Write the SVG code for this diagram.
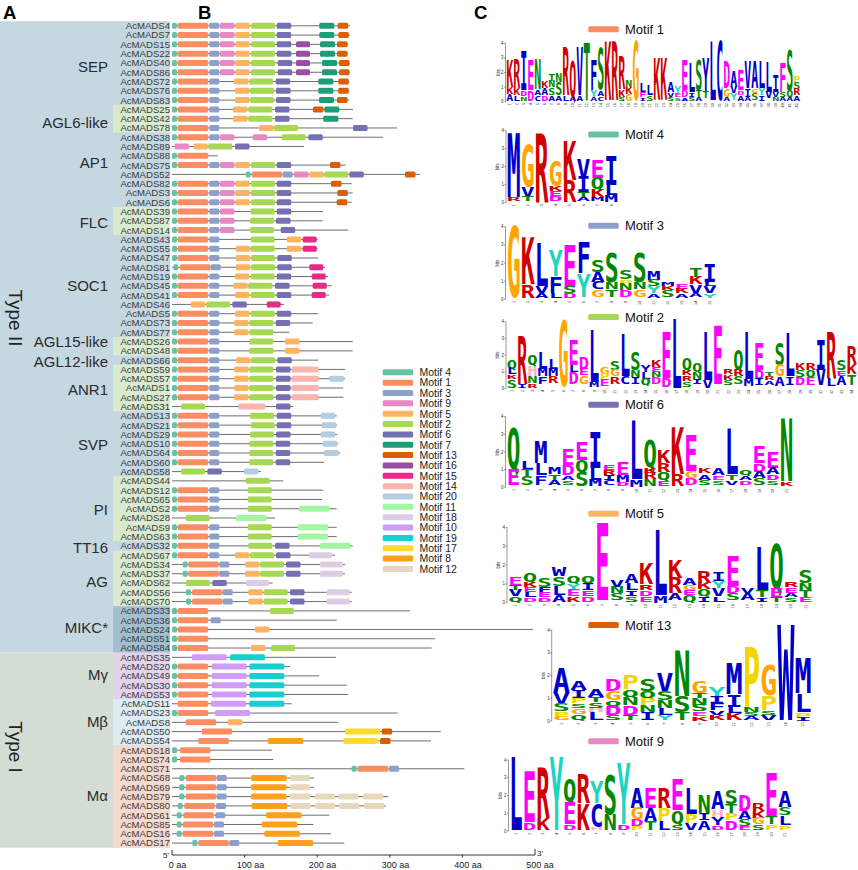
<svg xmlns="http://www.w3.org/2000/svg" width="858" height="870" viewBox="0 0 858 870">
<style>
text{font-family:"Liberation Sans",Arial,Helvetica,sans-serif}
.pl{font-size:18.5px;font-weight:bold;fill:#000}
.ty{font-size:19px;fill:#222;text-anchor:middle}
.sf{font-size:15px;fill:#2b2b2b;text-anchor:end}
.R text{font-size:9.6px;fill:#3a3a3a;text-anchor:end}
.R path{stroke:#6e6e6e;stroke-width:1;fill:none}
.R rect,.sw{height:6px;y:-3px;rx:1.5px;ry:1.5px}
.m4{fill:#66c2a5;width:5px}.m1{fill:#fc8d62;width:30.5px}.m3{fill:#8da0cb;width:10px}.m9{fill:#e78ac3;width:14.5px}
.m5{fill:#fdb462;width:14.5px}.m2{fill:#a6d854;width:24px}.m6{fill:#7570b3;width:14.5px}.m7{fill:#1b9e77;width:15px}
.m13{fill:#d95f02;width:10.5px}.m16{fill:#984ea3;width:14px}.m15{fill:#e7298a;width:14px}.m14{fill:#fbb4ae;width:27px}
.m20{fill:#b3cde3;width:14.5px}.m11{fill:#a1f7a1;width:30.5px}.m18{fill:#decbe4;width:23px}.m10{fill:#cf9cf7;width:35px}
.m19{fill:#17cfcf;width:35px}.m17{fill:#ffd92f;width:35px}.m8{fill:#ffa01c;width:35.5px}.m12{fill:#e5d8bd;width:20px}
rect.sw{width:30.5px}
.lgd text{font-size:10.5px;fill:#222}
.mt{font-size:13px;fill:#111}
.ax{stroke:#333;stroke-width:1;fill:none}
.at{font-size:9px;fill:#222;text-anchor:middle}
.lg text{font-family:"DejaVu Sans Mono",monospace;font-weight:bold;font-size:13.72px;text-anchor:middle}
.r{fill:#d10000}.m{fill:#f0f}.b{fill:#0000c8}.g{fill:#008800}.o{fill:#ffa500}.c{fill:#1fd3c0}.y{fill:#f2d600}.p{fill:#ffb3c1}
.ya{stroke:#333;stroke-width:.5;fill:none}
.yt{font-size:4.5px;fill:#333;text-anchor:end}
.bt{font-size:4.5px;fill:#333;text-anchor:middle}
.nu text{font-size:3.8px;fill:#333;text-anchor:end}
</style>
<rect width="858" height="870" fill="#fff"/>
<g id="panels">
<rect x="0" y="21.2" width="170" height="631.5" fill="#c5d7e1"/>
<rect x="0" y="652.7" width="170" height="195" fill="#d3ddd4"/>
<rect x="113" y="104.74" width="57" height="27.86" fill="#d9eacf"/>
<rect x="113" y="206.9" width="57" height="27.86" fill="#d9eacf"/>
<rect x="113" y="336.92" width="57" height="18.57" fill="#d9eacf"/>
<rect x="113" y="364.78" width="57" height="46.44" fill="#d9eacf"/>
<rect x="113" y="476.22" width="57" height="65" fill="#d9eacf"/>
<rect x="113" y="550.52" width="57" height="55.72" fill="#d9eacf"/>
<rect x="113" y="606.24" width="57" height="46.44" fill="#a3c0d0"/>
<rect x="113" y="652.68" width="57" height="46.44" fill="#e3d3eb"/>
<rect x="113" y="699.11" width="57" height="46.44" fill="#dcecf5"/>
<rect x="113" y="745.55" width="57" height="102.16" fill="#f7d8cc"/>
</g>
<text class="pl" x="3" y="18.5">A</text>
<text class="pl" x="198" y="18.5">B</text>
<text class="pl" x="474" y="18.5">C</text>
<text class="ty" transform="translate(16 318) rotate(90)" dy=".35em">Type II</text>
<text class="ty" transform="translate(16 747) rotate(90)" dy=".35em">Type I</text>
<g id="subfamilies">
<text class="sf" x="108" y="72.4">SEP</text>
<text class="sf" x="108" y="128.4">AGL6-like</text>
<text class="sf" x="108" y="168.4">AP1</text>
<text class="sf" x="108" y="228">FLC</text>
<text class="sf" x="108" y="291.4">SOC1</text>
<text class="sf" x="108" y="347">AGL15-like</text>
<text class="sf" x="108" y="367">AGL12-like</text>
<text class="sf" x="108" y="395.4">ANR1</text>
<text class="sf" x="108" y="450.4">SVP</text>
<text class="sf" x="108" y="515.4">PI</text>
<text class="sf" x="108" y="553">TT16</text>
<text class="sf" x="108" y="587">AG</text>
<text class="sf" x="108" y="633.4">MIKC*</text>
<text class="sf" x="108" y="680.4">Mγ</text>
<text class="sf" x="108" y="727">Mβ</text>
<text class="sf" x="108" y="801">Mα</text>
</g>
<g class="R">
<g id="AcMADS4" transform="translate(0 25.8)"><text x="170" y="3.4">AcMADS4</text><path d="M172 0H350"/><rect class="m4" x="172"/><rect class="m1" x="177.7"/><rect class="m3" x="209.3"/><rect class="m9" x="220"/><rect class="m5" x="235.3"/><rect class="m2" x="251"/><rect class="m6" x="276.7"/><rect class="m7" x="319.3"/><rect class="m13" x="337.7"/></g>
<g id="AcMADS7" transform="translate(0 35.09)"><text x="170" y="3.4">AcMADS7</text><path d="M172 0H350"/><rect class="m4" x="172"/><rect class="m1" x="177.7"/><rect class="m3" x="209.3"/><rect class="m9" x="220"/><rect class="m5" x="235.3"/><rect class="m2" x="251"/><rect class="m6" x="276.7"/><rect class="m7" x="319.3"/><rect class="m13" x="338.3"/></g>
<g id="AcMADS15" transform="translate(0 44.37)"><text x="170" y="3.4">AcMADS15</text><path d="M172 0H348"/><rect class="m4" x="172"/><rect class="m1" x="177.7"/><rect class="m3" x="209.3"/><rect class="m9" x="220"/><rect class="m5" x="235.3"/><rect class="m2" x="251"/><rect class="m6" x="276.7"/><rect class="m16" x="296"/><rect class="m7" x="320"/><rect class="m13" x="337"/></g>
<g id="AcMADS22" transform="translate(0 53.66)"><text x="170" y="3.4">AcMADS22</text><path d="M172 0H348"/><rect class="m4" x="172"/><rect class="m1" x="177.7"/><rect class="m3" x="209.3"/><rect class="m9" x="220"/><rect class="m5" x="235.3"/><rect class="m2" x="251"/><rect class="m6" x="276.7"/><rect class="m16" x="296"/><rect class="m7" x="320"/><rect class="m13" x="337"/></g>
<g id="AcMADS40" transform="translate(0 62.95)"><text x="170" y="3.4">AcMADS40</text><path d="M172 0H350"/><rect class="m4" x="172"/><rect class="m1" x="177.7"/><rect class="m3" x="209.3"/><rect class="m9" x="220"/><rect class="m5" x="235.3"/><rect class="m2" x="251"/><rect class="m6" x="277.7"/><rect class="m16" x="296"/><rect class="m7" x="322"/><rect class="m13" x="339"/></g>
<g id="AcMADS86" transform="translate(0 72.24)"><text x="170" y="3.4">AcMADS86</text><path d="M172 0H350"/><rect class="m4" x="172"/><rect class="m1" x="177.7"/><rect class="m3" x="209.3"/><rect class="m9" x="220"/><rect class="m5" x="235.3"/><rect class="m2" x="251"/><rect class="m6" x="277.7"/><rect class="m16" x="296"/><rect class="m7" x="322"/><rect class="m13" x="339"/></g>
<g id="AcMADS72" transform="translate(0 81.52)"><text x="170" y="3.4">AcMADS72</text><path d="M172 0H349.3"/><rect class="m4" x="172"/><rect class="m1" x="177.7"/><rect class="m3" x="209.3"/><rect class="m5" x="234"/><rect class="m2" x="249.3"/><rect class="m6" x="275.7"/><rect class="m7" x="318.3"/><rect class="m13" x="338.3"/></g>
<g id="AcMADS76" transform="translate(0 90.81)"><text x="170" y="3.4">AcMADS76</text><path d="M172 0H349.3"/><rect class="m4" x="172"/><rect class="m1" x="177.7"/><rect class="m3" x="209.3"/><rect class="m5" x="235"/><rect class="m2" x="250"/><rect class="m6" x="276"/><rect class="m7" x="318.3"/><rect class="m13" x="338.3"/></g>
<g id="AcMADS83" transform="translate(0 100.1)"><text x="170" y="3.4">AcMADS83</text><path d="M172 0H349"/><rect class="m4" x="172"/><rect class="m1" x="177.7"/><rect class="m3" x="209.3"/><rect class="m5" x="235"/><rect class="m2" x="250"/><rect class="m6" x="276"/><rect class="m7" x="319"/><rect class="m13" x="337"/></g>
<g id="AcMADS25" transform="translate(0 109.38)"><text x="170" y="3.4">AcMADS25</text><path d="M172 0H353"/><rect class="m4" x="172"/><rect class="m1" x="177.7"/><rect class="m3" x="209.3"/><rect class="m5" x="233"/><rect class="m2" x="248.3"/><rect class="m6" x="275"/><rect class="m13" x="313"/><rect class="m7" x="324.3"/></g>
<g id="AcMADS42" transform="translate(0 118.67)"><text x="170" y="3.4">AcMADS42</text><path d="M172 0H352.7"/><rect class="m4" x="172"/><rect class="m1" x="177.7"/><rect class="m3" x="209.3"/><rect class="m5" x="233"/><rect class="m2" x="248.3"/><rect class="m6" x="275"/><rect class="m7" x="323.3"/></g>
<g id="AcMADS78" transform="translate(0 127.96)"><text x="170" y="3.4">AcMADS78</text><path d="M172 0H397"/><rect class="m4" x="172"/><rect class="m1" x="177.7"/><rect class="m3" x="209.3"/><rect class="m5" x="259"/><rect class="m2" x="274"/><rect class="m6" x="353"/></g>
<g id="AcMADS38" transform="translate(0 137.24)"><text x="170" y="3.4">AcMADS38</text><path d="M172 0H383"/><rect class="m4" x="172"/><rect class="m1" x="177.7"/><rect class="m3" x="209.3"/><rect class="m9" x="220"/><rect class="m9" x="252.7"/><rect class="m2" x="281.7"/><rect class="m6" x="308.3"/></g>
<g id="AcMADS89" transform="translate(0 146.53)"><text x="170" y="3.4">AcMADS89</text><path d="M172 0H304"/><rect class="m9" x="174.5"/><rect class="m5" x="193.3"/><rect class="m2" x="208.3"/><rect class="m6" x="235"/></g>
<g id="AcMADS88" transform="translate(0 155.82)"><text x="170" y="3.4">AcMADS88</text><path d="M172 0H217.7"/><rect class="m4" x="172"/><rect class="m1" x="177.7"/></g>
<g id="AcMADS75" transform="translate(0 165.1)"><text x="170" y="3.4">AcMADS75</text><path d="M172 0H345.7"/><rect class="m4" x="172"/><rect class="m1" x="177.7"/><rect class="m3" x="209.3"/><rect class="m9" x="220"/><rect class="m5" x="235.3"/><rect class="m2" x="251"/><rect class="m6" x="276.7"/><rect class="m13" x="330"/></g>
<g id="AcMADS52" transform="translate(0 174.39)"><text x="170" y="3.4">AcMADS52</text><path d="M172 0H420"/><rect class="m4" x="245.7"/><rect class="m1" x="251.7"/><rect class="m3" x="282.7"/><rect class="m9" x="294"/><rect class="m5" x="309.3"/><rect class="m2" x="324.3"/><rect class="m6" x="349.3"/><rect class="m13" x="405"/></g>
<g id="AcMADS82" transform="translate(0 183.68)"><text x="170" y="3.4">AcMADS82</text><path d="M172 0H351.7"/><rect class="m4" x="172"/><rect class="m1" x="177.7"/><rect class="m3" x="209.3"/><rect class="m9" x="220"/><rect class="m5" x="235.3"/><rect class="m2" x="251"/><rect class="m6" x="276.7"/><rect class="m13" x="331"/></g>
<g id="AcMADS3" transform="translate(0 192.97)"><text x="170" y="3.4">AcMADS3</text><path d="M172 0H352.7"/><rect class="m4" x="172"/><rect class="m1" x="177.7"/><rect class="m3" x="209.3"/><rect class="m9" x="220"/><rect class="m5" x="235.3"/><rect class="m2" x="251"/><rect class="m6" x="276.7"/><rect class="m13" x="337.3"/></g>
<g id="AcMADS6" transform="translate(0 202.25)"><text x="170" y="3.4">AcMADS6</text><path d="M172 0H351.7"/><rect class="m4" x="172"/><rect class="m1" x="177.7"/><rect class="m3" x="209.3"/><rect class="m9" x="220"/><rect class="m5" x="235.3"/><rect class="m2" x="251"/><rect class="m6" x="276.7"/><rect class="m13" x="336.7"/></g>
<g id="AcMADS39" transform="translate(0 211.54)"><text x="170" y="3.4">AcMADS39</text><path d="M172 0H323"/><rect class="m4" x="172"/><rect class="m1" x="177.7"/><rect class="m3" x="209.3"/><rect class="m9" x="220"/><rect class="m2" x="250.7"/><rect class="m6" x="276.7"/></g>
<g id="AcMADS87" transform="translate(0 220.83)"><text x="170" y="3.4">AcMADS87</text><path d="M172 0H322.7"/><rect class="m4" x="172"/><rect class="m1" x="177.7"/><rect class="m3" x="209.3"/><rect class="m9" x="220"/><rect class="m2" x="250"/><rect class="m6" x="276"/></g>
<g id="AcMADS14" transform="translate(0 230.11)"><text x="170" y="3.4">AcMADS14</text><path d="M172 0H348.3"/><rect class="m4" x="172"/><rect class="m1" x="177.7"/><rect class="m3" x="209.3"/><rect class="m9" x="220"/><rect class="m2" x="250"/><rect class="m6" x="280.7"/></g>
<g id="AcMADS43" transform="translate(0 239.4)"><text x="170" y="3.4">AcMADS43</text><path d="M172 0H317.7"/><rect class="m4" x="172"/><rect class="m1" x="177.7"/><rect class="m3" x="209.3"/><rect class="m2" x="250.7"/><rect class="m5" x="286.7"/><rect class="m15" x="302.7"/></g>
<g id="AcMADS55" transform="translate(0 248.69)"><text x="170" y="3.4">AcMADS55</text><path d="M172 0H317.7"/><rect class="m4" x="172"/><rect class="m1" x="177.7"/><rect class="m3" x="209.3"/><rect class="m5" x="235.7"/><rect class="m2" x="250.7"/><rect class="m5" x="286.7"/><rect class="m15" x="302.7"/></g>
<g id="AcMADS47" transform="translate(0 257.98)"><text x="170" y="3.4">AcMADS47</text><path d="M172 0H318.3"/><rect class="m4" x="172"/><rect class="m1" x="177.7"/><rect class="m3" x="209.3"/><rect class="m5" x="235.7"/><rect class="m2" x="251"/><rect class="m6" x="277.3"/></g>
<g id="AcMADS81" transform="translate(0 267.26)"><text x="170" y="3.4">AcMADS81</text><path d="M172 0H325"/><rect class="m4" x="173.3"/><rect class="m1" x="180"/><rect class="m3" x="210.7"/><rect class="m5" x="235.7"/><rect class="m2" x="251"/><rect class="m6" x="277.3"/><rect class="m15" x="309.3"/></g>
<g id="AcMADS19" transform="translate(0 276.55)"><text x="170" y="3.4">AcMADS19</text><path d="M172 0H328.3"/><rect class="m4" x="172"/><rect class="m1" x="177.7"/><rect class="m3" x="209.3"/><rect class="m5" x="235"/><rect class="m2" x="250.7"/><rect class="m6" x="276.7"/><rect class="m15" x="311.7"/></g>
<g id="AcMADS45" transform="translate(0 285.84)"><text x="170" y="3.4">AcMADS45</text><path d="M172 0H331.7"/><rect class="m4" x="172"/><rect class="m1" x="177.7"/><rect class="m3" x="209.3"/><rect class="m5" x="233.3"/><rect class="m2" x="248.3"/><rect class="m6" x="275"/><rect class="m15" x="312.7"/></g>
<g id="AcMADS41" transform="translate(0 295.12)"><text x="170" y="3.4">AcMADS41</text><path d="M172 0H329.3"/><rect class="m4" x="172"/><rect class="m1" x="177.7"/><rect class="m3" x="209.3"/><rect class="m5" x="235"/><rect class="m2" x="250.7"/><rect class="m6" x="276.7"/><rect class="m15" x="311.7"/></g>
<g id="AcMADS46" transform="translate(0 304.41)"><text x="170" y="3.4">AcMADS46</text><path d="M172 0H284"/><rect class="m5" x="190.7"/><rect class="m2" x="206"/><rect class="m6" x="232.3"/><rect class="m15" x="266.7"/></g>
<g id="AcMADS5" transform="translate(0 313.7)"><text x="170" y="3.4">AcMADS5</text><path d="M172 0H318.3"/><rect class="m4" x="172"/><rect class="m1" x="177.7"/><rect class="m3" x="209.3"/><rect class="m5" x="235"/><rect class="m2" x="250.7"/><rect class="m6" x="276.7"/></g>
<g id="AcMADS73" transform="translate(0 322.98)"><text x="170" y="3.4">AcMADS73</text><path d="M172 0H312.7"/><rect class="m4" x="172"/><rect class="m1" x="177.7"/><rect class="m3" x="209.3"/><rect class="m5" x="234"/><rect class="m2" x="249.3"/><rect class="m6" x="275.7"/></g>
<g id="AcMADS77" transform="translate(0 332.27)"><text x="170" y="3.4">AcMADS77</text><path d="M172 0H289.3"/><rect class="m4" x="172"/><rect class="m1" x="177.7"/><rect class="m3" x="209.3"/><rect class="m5" x="234"/><rect class="m2" x="249.3"/></g>
<g id="AcMADS26" transform="translate(0 341.56)"><text x="170" y="3.4">AcMADS26</text><path d="M172 0H352.7"/><rect class="m4" x="172"/><rect class="m1" x="177.7"/><rect class="m3" x="209.3"/><rect class="m2" x="249.3"/><rect class="m5" x="285"/></g>
<g id="AcMADS48" transform="translate(0 350.85)"><text x="170" y="3.4">AcMADS48</text><path d="M172 0H352.7"/><rect class="m4" x="172"/><rect class="m1" x="177.7"/><rect class="m3" x="209.3"/><rect class="m2" x="249.3"/><rect class="m5" x="285"/></g>
<g id="AcMADS66" transform="translate(0 360.13)"><text x="170" y="3.4">AcMADS66</text><path d="M172 0H318.3"/><rect class="m4" x="172"/><rect class="m1" x="177.7"/><rect class="m3" x="209.3"/><rect class="m5" x="236"/><rect class="m2" x="251"/><rect class="m6" x="277.3"/></g>
<g id="AcMADS59" transform="translate(0 369.42)"><text x="170" y="3.4">AcMADS59</text><path d="M172 0H345"/><rect class="m4" x="172"/><rect class="m1" x="177.7"/><rect class="m3" x="209.3"/><rect class="m5" x="234"/><rect class="m2" x="249.3"/><rect class="m6" x="276"/><rect class="m14" x="291.7"/></g>
<g id="AcMADS57" transform="translate(0 378.71)"><text x="170" y="3.4">AcMADS57</text><path d="M172 0H345"/><rect class="m4" x="172"/><rect class="m1" x="177.7"/><rect class="m3" x="209.3"/><rect class="m5" x="234"/><rect class="m2" x="249.3"/><rect class="m6" x="276"/><rect class="m14" x="291.7"/><rect class="m20" x="329.3"/></g>
<g id="AcMADS1" transform="translate(0 387.99)"><text x="170" y="3.4">AcMADS1</text><path d="M172 0H343.3"/><rect class="m4" x="172"/><rect class="m1" x="177.7"/><rect class="m3" x="209.3"/><rect class="m5" x="234"/><rect class="m2" x="249.3"/><rect class="m6" x="276"/><rect class="m14" x="291.7"/></g>
<g id="AcMADS27" transform="translate(0 397.28)"><text x="170" y="3.4">AcMADS27</text><path d="M172 0H343.3"/><rect class="m4" x="172"/><rect class="m1" x="177.7"/><rect class="m3" x="209.3"/><rect class="m5" x="234"/><rect class="m2" x="249.3"/><rect class="m6" x="276"/><rect class="m14" x="291.7"/></g>
<g id="AcMADS31" transform="translate(0 406.57)"><text x="170" y="3.4">AcMADS31</text><path d="M172 0H293.3"/><rect class="m2" x="181"/><rect class="m14" x="238.3"/><rect class="m6" x="276"/></g>
<g id="AcMADS13" transform="translate(0 415.85)"><text x="170" y="3.4">AcMADS13</text><path d="M172 0H336.7"/><rect class="m4" x="172"/><rect class="m1" x="177.7"/><rect class="m3" x="209.3"/><rect class="m2" x="250"/><rect class="m6" x="276.7"/><rect class="m20" x="320.7"/></g>
<g id="AcMADS21" transform="translate(0 425.14)"><text x="170" y="3.4">AcMADS21</text><path d="M172 0H337"/><rect class="m4" x="172"/><rect class="m1" x="177.7"/><rect class="m3" x="209.3"/><rect class="m2" x="250.7"/><rect class="m6" x="276.7"/><rect class="m20" x="321.7"/></g>
<g id="AcMADS29" transform="translate(0 434.43)"><text x="170" y="3.4">AcMADS29</text><path d="M172 0H337.3"/><rect class="m4" x="172"/><rect class="m1" x="177.7"/><rect class="m3" x="209.3"/><rect class="m2" x="250"/><rect class="m6" x="276"/><rect class="m20" x="320.7"/></g>
<g id="AcMADS10" transform="translate(0 443.72)"><text x="170" y="3.4">AcMADS10</text><path d="M172 0H338.3"/><rect class="m4" x="172"/><rect class="m1" x="177.7"/><rect class="m3" x="209.3"/><rect class="m2" x="249.3"/><rect class="m6" x="275.7"/><rect class="m20" x="322.7"/></g>
<g id="AcMADS64" transform="translate(0 453)"><text x="170" y="3.4">AcMADS64</text><path d="M172 0H340"/><rect class="m4" x="172"/><rect class="m1" x="177.7"/><rect class="m3" x="209.3"/><rect class="m2" x="249.3"/><rect class="m6" x="275.7"/><rect class="m20" x="324"/></g>
<g id="AcMADS60" transform="translate(0 462.29)"><text x="170" y="3.4">AcMADS60</text><path d="M172 0H324"/><rect class="m4" x="172"/><rect class="m1" x="177.7"/><rect class="m3" x="209.3"/><rect class="m2" x="249.3"/><rect class="m6" x="275.7"/></g>
<g id="AcMADS58" transform="translate(0 471.58)"><text x="170" y="3.4">AcMADS58</text><path d="M172 0H261"/><rect class="m2" x="181"/><rect class="m6" x="207.3"/><rect class="m20" x="244"/></g>
<g id="AcMADS44" transform="translate(0 480.86)"><text x="170" y="3.4">AcMADS44</text><path d="M172 0H283.3"/><rect class="m2" x="245.7"/></g>
<g id="AcMADS12" transform="translate(0 490.15)"><text x="170" y="3.4">AcMADS12</text><path d="M172 0H323.3"/><rect class="m4" x="172"/><rect class="m1" x="177.7"/><rect class="m3" x="209.3"/><rect class="m2" x="247.7"/></g>
<g id="AcMADS65" transform="translate(0 499.44)"><text x="170" y="3.4">AcMADS65</text><path d="M172 0H322.3"/><rect class="m4" x="172"/><rect class="m1" x="177.7"/><rect class="m3" x="209.3"/><rect class="m2" x="247.7"/></g>
<g id="AcMADS2" transform="translate(0 508.72)"><text x="170" y="3.4">AcMADS2</text><path d="M172 0H336.7"/><rect class="m4" x="172"/><rect class="m1" x="177.7"/><rect class="m3" x="209.3"/><rect class="m2" x="247.7"/><rect class="m11" x="299"/></g>
<g id="AcMADS28" transform="translate(0 518.01)"><text x="170" y="3.4">AcMADS28</text><path d="M172 0H275"/><rect class="m2" x="185.7"/><rect class="m11" x="236"/></g>
<g id="AcMADS9" transform="translate(0 527.3)"><text x="170" y="3.4">AcMADS9</text><path d="M172 0H336.7"/><rect class="m4" x="172"/><rect class="m1" x="177.7"/><rect class="m3" x="209.3"/><rect class="m2" x="247.7"/><rect class="m11" x="297.7"/></g>
<g id="AcMADS63" transform="translate(0 536.59)"><text x="170" y="3.4">AcMADS63</text><path d="M172 0H336.7"/><rect class="m4" x="172"/><rect class="m1" x="177.7"/><rect class="m3" x="209.3"/><rect class="m2" x="247.7"/><rect class="m11" x="297.7"/></g>
<g id="AcMADS32" transform="translate(0 545.87)"><text x="170" y="3.4">AcMADS32</text><path d="M172 0H352.7"/><rect class="m4" x="172"/><rect class="m1" x="177.7"/><rect class="m3" x="209.3"/><rect class="m2" x="248.3"/><rect class="m6" x="275"/><rect class="m11" x="320"/></g>
<g id="AcMADS67" transform="translate(0 555.16)"><text x="170" y="3.4">AcMADS67</text><path d="M172 0H335"/><rect class="m4" x="172"/><rect class="m1" x="177.7"/><rect class="m3" x="209.3"/><rect class="m5" x="235"/><rect class="m2" x="250"/><rect class="m6" x="276"/><rect class="m18" x="309"/></g>
<g id="AcMADS34" transform="translate(0 564.45)"><text x="170" y="3.4">AcMADS34</text><path d="M172 0H345"/><rect class="m4" x="182.7"/><rect class="m1" x="188.3"/><rect class="m3" x="219.3"/><rect class="m5" x="245"/><rect class="m2" x="260"/><rect class="m6" x="286"/><rect class="m18" x="320"/></g>
<g id="AcMADS37" transform="translate(0 573.73)"><text x="170" y="3.4">AcMADS37</text><path d="M172 0H345"/><rect class="m4" x="182.7"/><rect class="m1" x="188.3"/><rect class="m3" x="219.3"/><rect class="m5" x="245"/><rect class="m2" x="260"/><rect class="m6" x="286"/><rect class="m18" x="320"/></g>
<g id="AcMADS62" transform="translate(0 583.02)"><text x="170" y="3.4">AcMADS62</text><path d="M172 0H272.7"/><rect class="m2" x="186"/><rect class="m6" x="212.3"/><rect class="m18" x="246"/></g>
<g id="AcMADS56" transform="translate(0 592.31)"><text x="170" y="3.4">AcMADS56</text><path d="M172 0H351.7"/><rect class="m4" x="186"/><rect class="m1" x="192"/><rect class="m3" x="222.7"/><rect class="m5" x="248.3"/><rect class="m2" x="263.7"/><rect class="m6" x="290"/><rect class="m18" x="326.7"/></g>
<g id="AcMADS70" transform="translate(0 601.59)"><text x="170" y="3.4">AcMADS70</text><path d="M172 0H351.7"/><rect class="m4" x="186"/><rect class="m1" x="192"/><rect class="m3" x="222.7"/><rect class="m5" x="248.3"/><rect class="m2" x="263.7"/><rect class="m6" x="290"/><rect class="m18" x="326.7"/></g>
<g id="AcMADS33" transform="translate(0 610.88)"><text x="170" y="3.4">AcMADS33</text><path d="M172 0H410"/><rect class="m4" x="172"/><rect class="m1" x="177.7"/><rect class="m2" x="270"/></g>
<g id="AcMADS36" transform="translate(0 620.17)"><text x="170" y="3.4">AcMADS36</text><path d="M172 0H336.7"/><rect class="m4" x="172"/><rect class="m1" x="177.7"/><rect class="m3" x="210.7"/></g>
<g id="AcMADS24" transform="translate(0 629.46)"><text x="170" y="3.4">AcMADS24</text><path d="M172 0H533"/><rect class="m4" x="172"/><rect class="m1" x="177.7"/><rect class="m5" x="255"/></g>
<g id="AcMADS51" transform="translate(0 638.74)"><text x="170" y="3.4">AcMADS51</text><path d="M172 0H435"/><rect class="m4" x="172"/><rect class="m1" x="177.7"/></g>
<g id="AcMADS84" transform="translate(0 648.03)"><text x="170" y="3.4">AcMADS84</text><path d="M172 0H431.7"/><rect class="m4" x="172"/><rect class="m1" x="177.7"/><rect class="m5" x="251"/><rect class="m2" x="271"/></g>
<g id="AcMADS35" transform="translate(0 657.32)"><text x="170" y="3.4">AcMADS35</text><path d="M172 0H336"/><rect class="m10" x="191.7"/><rect class="m19" x="230"/></g>
<g id="AcMADS20" transform="translate(0 666.6)"><text x="170" y="3.4">AcMADS20</text><path d="M172 0H290"/><rect class="m4" x="172"/><rect class="m1" x="177.7"/><rect class="m10" x="211.7"/><rect class="m19" x="249.3"/></g>
<g id="AcMADS49" transform="translate(0 675.89)"><text x="170" y="3.4">AcMADS49</text><path d="M172 0H319.3"/><rect class="m4" x="172"/><rect class="m1" x="177.7"/><rect class="m10" x="211.7"/><rect class="m19" x="249.3"/></g>
<g id="AcMADS30" transform="translate(0 685.18)"><text x="170" y="3.4">AcMADS30</text><path d="M172 0H346.7"/><rect class="m4" x="172"/><rect class="m1" x="177.7"/><rect class="m10" x="211.7"/><rect class="m19" x="249.3"/></g>
<g id="AcMADS53" transform="translate(0 694.46)"><text x="170" y="3.4">AcMADS53</text><path d="M172 0H348.3"/><rect class="m4" x="172"/><rect class="m1" x="177.7"/><rect class="m10" x="211.7"/><rect class="m19" x="249.3"/></g>
<g id="AcMADS11" transform="translate(0 703.75)"><text x="170" y="3.4">AcMADS11</text><path d="M172 0H291.7"/><rect class="m1" x="177.7"/><rect class="m10" x="211"/><rect class="m19" x="249.3"/></g>
<g id="AcMADS23" transform="translate(0 713.04)"><text x="170" y="3.4">AcMADS23</text><path d="M172 0H397.7"/><rect class="m4" x="172"/><rect class="m1" x="177.7"/><rect class="m10" x="215"/></g>
<g id="AcMADS8" transform="translate(0 722.33)"><text x="170" y="3.4">AcMADS8</text><path d="M172 0H337.7"/><rect class="m1" x="185.7"/><rect class="m5" x="227.7"/></g>
<g id="AcMADS50" transform="translate(0 731.61)"><text x="170" y="3.4">AcMADS50</text><path d="M172 0H440.7"/><rect class="m1" x="201.7"/><rect class="m17" x="345"/><rect class="m13" x="381.7"/></g>
<g id="AcMADS54" transform="translate(0 740.9)"><text x="170" y="3.4">AcMADS54</text><path d="M172 0H431"/><rect class="m1" x="198.3"/><rect class="m8" x="267.7"/><rect class="m17" x="343.3"/><rect class="m13" x="380"/></g>
<g id="AcMADS18" transform="translate(0 750.19)"><text x="170" y="3.4">AcMADS18</text><path d="M172 0H271.7"/><rect class="m4" x="172"/><rect class="m1" x="180"/></g>
<g id="AcMADS74" transform="translate(0 759.47)"><text x="170" y="3.4">AcMADS74</text><path d="M172 0H273.3"/><rect class="m4" x="172"/><rect class="m1" x="180"/></g>
<g id="AcMADS71" transform="translate(0 768.76)"><text x="170" y="3.4">AcMADS71</text><path d="M172 0H464.3"/><rect class="m4" x="351.7"/><rect class="m1" x="357.7"/><rect class="m3" x="389"/></g>
<g id="AcMADS68" transform="translate(0 778.05)"><text x="170" y="3.4">AcMADS68</text><path d="M172 0H314"/><rect class="m4" x="179.3"/><rect class="m1" x="185.7"/><rect class="m3" x="216.7"/><rect class="m8" x="251"/><rect class="m12" x="290"/></g>
<g id="AcMADS69" transform="translate(0 787.33)"><text x="170" y="3.4">AcMADS69</text><path d="M172 0H314"/><rect class="m4" x="179.3"/><rect class="m1" x="185.7"/><rect class="m3" x="216.7"/><rect class="m8" x="251"/><rect class="m12" x="290"/></g>
<g id="AcMADS79" transform="translate(0 796.62)"><text x="170" y="3.4">AcMADS79</text><path d="M172 0H388.3"/><rect class="m4" x="179.3"/><rect class="m1" x="185.7"/><rect class="m3" x="216.7"/><rect class="m8" x="251"/><rect class="m12" x="290"/><rect class="m12" x="315"/><rect class="m12" x="338.3"/><rect class="m12" x="363.3"/></g>
<g id="AcMADS80" transform="translate(0 805.91)"><text x="170" y="3.4">AcMADS80</text><path d="M172 0H386"/><rect class="m4" x="177.7"/><rect class="m1" x="184.3"/><rect class="m3" x="216"/><rect class="m8" x="251.7"/><rect class="m12" x="290.7"/><rect class="m12" x="315"/><rect class="m12" x="339.3"/><rect class="m12" x="364.3"/></g>
<g id="AcMADS61" transform="translate(0 815.2)"><text x="170" y="3.4">AcMADS61</text><path d="M172 0H329.3"/><rect class="m4" x="176.7"/><rect class="m1" x="183.3"/><rect class="m3" x="215.3"/><rect class="m8" x="266"/></g>
<g id="AcMADS85" transform="translate(0 824.48)"><text x="170" y="3.4">AcMADS85</text><path d="M172 0H313.3"/><rect class="m4" x="176.7"/><rect class="m1" x="182.7"/><rect class="m3" x="214"/><rect class="m8" x="261.7"/></g>
<g id="AcMADS16" transform="translate(0 833.77)"><text x="170" y="3.4">AcMADS16</text><path d="M172 0H331"/><rect class="m4" x="176.7"/><rect class="m1" x="182.7"/><rect class="m3" x="214"/><rect class="m8" x="264.3"/></g>
<g id="AcMADS17" transform="translate(0 843.06)"><text x="170" y="3.4">AcMADS17</text><path d="M172 0H344.3"/><rect class="m4" x="192.3"/><rect class="m1" x="198.3"/><rect class="m3" x="229.3"/><rect class="m8" x="277.7"/></g>
</g>
<g id="scale">
<path class="ax" d="M172 855H535M172 855V850M535 855V849M244.6 855v2.5M317.2 855v2.5M389.8 855v2.5M462.4 855v2.5"/>
<text class="at" x="166" y="858" style="font-size:8px">5'</text>
<text x="537" y="855.5" style="font-size:8px;fill:#222">3'</text>
<text class="at" x="177.5" y="868">0 aa</text>
<text class="at" x="250.5" y="868">100 aa</text>
<text class="at" x="322.5" y="868">200 aa</text>
<text class="at" x="395.5" y="868">300 aa</text>
<text class="at" x="468" y="868">400 aa</text>
<text class="at" x="540" y="868">500 aa</text>
</g>
<g id="legend" class="lgd">
<g transform="translate(0 372.3)"><rect class="sw m4" x="382.7"/><text x="419.5" y="3.8">Motif 4</text></g>
<g transform="translate(0 382.65)"><rect class="sw m1" x="382.7"/><text x="419.5" y="3.8">Motif 1</text></g>
<g transform="translate(0 393)"><rect class="sw m3" x="382.7"/><text x="419.5" y="3.8">Motif 3</text></g>
<g transform="translate(0 403.35)"><rect class="sw m9" x="382.7"/><text x="419.5" y="3.8">Motif 9</text></g>
<g transform="translate(0 413.7)"><rect class="sw m5" x="382.7"/><text x="419.5" y="3.8">Motif 5</text></g>
<g transform="translate(0 424.05)"><rect class="sw m2" x="382.7"/><text x="419.5" y="3.8">Motif 2</text></g>
<g transform="translate(0 434.4)"><rect class="sw m6" x="382.7"/><text x="419.5" y="3.8">Motif 6</text></g>
<g transform="translate(0 444.75)"><rect class="sw m7" x="382.7"/><text x="419.5" y="3.8">Motif 7</text></g>
<g transform="translate(0 455.1)"><rect class="sw m13" x="382.7"/><text x="419.5" y="3.8">Motif 13</text></g>
<g transform="translate(0 465.45)"><rect class="sw m16" x="382.7"/><text x="419.5" y="3.8">Motif 16</text></g>
<g transform="translate(0 475.8)"><rect class="sw m15" x="382.7"/><text x="419.5" y="3.8">Motif 15</text></g>
<g transform="translate(0 486.15)"><rect class="sw m14" x="382.7"/><text x="419.5" y="3.8">Motif 14</text></g>
<g transform="translate(0 496.5)"><rect class="sw m20" x="382.7"/><text x="419.5" y="3.8">Motif 20</text></g>
<g transform="translate(0 506.85)"><rect class="sw m11" x="382.7"/><text x="419.5" y="3.8">Motif 11</text></g>
<g transform="translate(0 517.2)"><rect class="sw m18" x="382.7"/><text x="419.5" y="3.8">Motif 18</text></g>
<g transform="translate(0 527.55)"><rect class="sw m10" x="382.7"/><text x="419.5" y="3.8">Motif 10</text></g>
<g transform="translate(0 537.9)"><rect class="sw m19" x="382.7"/><text x="419.5" y="3.8">Motif 19</text></g>
<g transform="translate(0 548.25)"><rect class="sw m17" x="382.7"/><text x="419.5" y="3.8">Motif 17</text></g>
<g transform="translate(0 558.6)"><rect class="sw m8" x="382.7"/><text x="419.5" y="3.8">Motif 8</text></g>
<g transform="translate(0 568.95)"><rect class="sw m12" x="382.7"/><text x="419.5" y="3.8">Motif 12</text></g>
</g>
<g id="titles">
<g transform="translate(0 29.2)"><rect class="sw m1" x="588.3"/><text class="mt" x="625" y="4.6">Motif 1</text></g>
<g transform="translate(0 134.5)"><rect class="sw m4" x="588.3"/><text class="mt" x="625" y="4.6">Motif 4</text></g>
<g transform="translate(0 225.7)"><rect class="sw m3" x="588.3"/><text class="mt" x="625" y="4.6">Motif 3</text></g>
<g transform="translate(0 317)"><rect class="sw m2" x="588.3"/><text class="mt" x="625" y="4.6">Motif 2</text></g>
<g transform="translate(0 404.7)"><rect class="sw m6" x="588.3"/><text class="mt" x="625" y="4.6">Motif 6</text></g>
<g transform="translate(0 513.7)"><rect class="sw m5" x="588.3"/><text class="mt" x="625" y="4.6">Motif 5</text></g>
<g transform="translate(0 625)"><rect class="sw m13" x="588.3"/><text class="mt" x="625" y="4.6">Motif 13</text></g>
<g transform="translate(0 741.3)"><rect class="sw m9" x="588.3"/><text class="mt" x="625" y="4.6">Motif 9</text></g>
</g>
<g id="axes">
<path class="ya" d="M505.5 43.3V101.7M504 43.3h1.5M504 57.9h1.5M504 72.5h1.5M504 87.1h1.5M504 101.7h1.5"/>
<text class="yt" x="503.5" y="44.8">4</text><text class="yt" x="503.5" y="59.4">3</text><text class="yt" x="503.5" y="74">2</text><text class="yt" x="503.5" y="88.6">1</text><text class="yt" x="503.5" y="103.2">0</text>
<text class="bt" transform="translate(499.5 72.5) rotate(-90)">bits</text>
<path class="ya" d="M506 130.7V202.7M504.5 130.7h1.5M504.5 148.7h1.5M504.5 166.7h1.5M504.5 184.7h1.5M504.5 202.7h1.5"/>
<text class="yt" x="504" y="132.2">4</text><text class="yt" x="504" y="150.2">3</text><text class="yt" x="504" y="168.2">2</text><text class="yt" x="504" y="186.2">1</text><text class="yt" x="504" y="204.2">0</text>
<text class="bt" transform="translate(499 166.7) rotate(-90)">bits</text>
<path class="ya" d="M505.5 226.7V299.3M504 226.7h1.5M504 244.85h1.5M504 263h1.5M504 281.15h1.5M504 299.3h1.5"/>
<text class="yt" x="503.5" y="228.2">4</text><text class="yt" x="503.5" y="246.35">3</text><text class="yt" x="503.5" y="264.5">2</text><text class="yt" x="503.5" y="282.65">1</text><text class="yt" x="503.5" y="300.8">0</text>
<text class="bt" transform="translate(498.5 263) rotate(-90)">bits</text>
<path class="ya" d="M506 321.7V388.3M504.5 321.7h1.5M504.5 338.35h1.5M504.5 355h1.5M504.5 371.65h1.5M504.5 388.3h1.5"/>
<text class="yt" x="504" y="323.2">4</text><text class="yt" x="504" y="339.85">3</text><text class="yt" x="504" y="356.5">2</text><text class="yt" x="504" y="373.15">1</text><text class="yt" x="504" y="389.8">0</text>
<text class="bt" transform="translate(499 355) rotate(-90)">bits</text>
<path class="ya" d="M505.5 416.7V487.3M504 416.7h1.5M504 434.35h1.5M504 452h1.5M504 469.65h1.5M504 487.3h1.5"/>
<text class="yt" x="503.5" y="418.2">4</text><text class="yt" x="503.5" y="435.85">3</text><text class="yt" x="503.5" y="453.5">2</text><text class="yt" x="503.5" y="471.15">1</text><text class="yt" x="503.5" y="488.8">0</text>
<text class="bt" transform="translate(498.5 452) rotate(-90)">bits</text>
<path class="ya" d="M507 527.3V602.7M505.5 527.3h1.5M505.5 546.15h1.5M505.5 565h1.5M505.5 583.85h1.5M505.5 602.7h1.5"/>
<text class="yt" x="505" y="528.8">4</text><text class="yt" x="505" y="547.65">3</text><text class="yt" x="505" y="566.5">2</text><text class="yt" x="505" y="585.35">1</text><text class="yt" x="505" y="604.2">0</text>
<text class="bt" transform="translate(500 565) rotate(-90)">bits</text>
<path class="ya" d="M551.7 630V721M550.2 630h1.5M550.2 652.75h1.5M550.2 675.5h1.5M550.2 698.25h1.5M550.2 721h1.5"/>
<text class="yt" x="549.7" y="631.5">4</text><text class="yt" x="549.7" y="654.25">3</text><text class="yt" x="549.7" y="677">2</text><text class="yt" x="549.7" y="699.75">1</text><text class="yt" x="549.7" y="722.5">0</text>
<text class="bt" transform="translate(544.5 675.5) rotate(-90)">bits</text>
<path class="ya" d="M508.5 760V831M507 760h1.5M507 777.75h1.5M507 795.5h1.5M507 813.25h1.5M507 831h1.5"/>
<text class="yt" x="506.5" y="761.5">4</text><text class="yt" x="506.5" y="779.25">3</text><text class="yt" x="506.5" y="797">2</text><text class="yt" x="506.5" y="814.75">1</text><text class="yt" x="506.5" y="832.5">0</text>
<text class="bt" transform="translate(501.5 795.5) rotate(-90)">bits</text>
</g>
<g id="logo1" class="lg" transform="translate(506.2 101.7) scale(.7 1)">
<text class="r" transform="matrix(1.21 0 0 2.73 5 -14.3)">K</text><text class="r" transform="matrix(1.21 0 0 .6 5 -7.3)">K</text><text class="b" transform="matrix(1.21 0 0 .57 5 -1)">A</text>
<text class="r" transform="matrix(1.21 0 0 2.9 15 -13.3)">R</text><text class="r" transform="matrix(1.21 0 0 .57 15 -7)">K</text><text class="b" transform="matrix(1.21 0 0 .53 15 -1)">L</text>
<text class="b" transform="matrix(1.21 0 0 3.83 25 -11.7)">I</text><text class="m" transform="matrix(1.21 0 0 .5 25 -6)">D</text><text class="g" transform="matrix(1.21 0 0 .43 25 -1)">N</text>
<text class="m" transform="matrix(1.21 0 0 3 35 -11.7)">E</text><text class="m" transform="matrix(1.21 0 0 1 35 -1)">D</text>
<text class="g" transform="matrix(1.21 0 0 2.93 45 -12.3)">N</text><text class="b" transform="matrix(1.21 0 0 .5 45 -6.7)">A</text><text class="b" transform="matrix(1.21 0 0 .5 45 -1)">C</text>
<text class="r" transform="matrix(1.21 0 0 .67 55 -13.3)">K</text><text class="b" transform="matrix(1.21 0 0 .6 55 -6.7)">A</text><text class="m" transform="matrix(1.21 0 0 .5 55 -1)">D</text>
<text class="g" transform="matrix(1.21 0 0 .67 65 -21)">T</text><text class="g" transform="matrix(1.21 0 0 .6 65 -14.3)">N</text><text class="g" transform="matrix(1.21 0 0 .67 65 -7)">S</text><text class="b" transform="matrix(1.21 0 0 .53 65 -1)">A</text>
<text class="g" transform="matrix(1.21 0 0 .83 75 -20)">N</text><text class="g" transform="matrix(1.21 0 0 1.27 75 -6.7)">S</text><text class="b" transform="matrix(1.21 0 0 .5 75 -1)">A</text>
<text class="r" transform="matrix(1.21 0 0 4.83 85 -6.7)">R</text><text class="b" transform="matrix(1.21 0 0 .5 85 -1)">L</text>
<text class="r" transform="matrix(1.21 0 0 3.67 95 -5)">Q</text><text class="b" transform="matrix(1.21 0 0 .33 95 -1)">A</text>
<text class="b" transform="matrix(1.21 0 0 4.83 105 -6.7)">V</text><text class="b" transform="matrix(1.21 0 0 .5 105 -1)">A</text>
<text class="g" transform="matrix(1.21 0 0 5.67 115 -1.7)">T</text>
<text class="b" transform="matrix(1.21 0 0 3 125 -11.7)">F</text><text class="c" transform="matrix(1.21 0 0 .6 125 -5)">Y</text><text class="b" transform="matrix(1.21 0 0 .33 125 -1)">A</text>
<text class="g" transform="matrix(1.21 0 0 4.17 135 -11.7)">S</text><text class="b" transform="matrix(1.21 0 0 .53 135 -5.7)">A</text><text class="b" transform="matrix(1.21 0 0 .4 135 -1)">C</text>
<text class="r" transform="matrix(1.21 0 0 5.83 145 -1.7)">K</text>
<text class="r" transform="matrix(1.21 0 0 5.83 155 -1.7)">R</text>
<text class="r" transform="matrix(1.21 0 0 3.27 165 -12.3)">R</text><text class="r" transform="matrix(1.21 0 0 .67 165 -5)">K</text><text class="g" transform="matrix(1.21 0 0 .33 165 -1)">S</text>
<text class="g" transform="matrix(1.21 0 0 .57 175 -14.3)">N</text><text class="r" transform="matrix(1.21 0 0 .6 175 -7.7)">K</text><text class="o" transform="matrix(1.21 0 0 .6 175 -1)">G</text>
<text class="o" transform="matrix(1.21 0 0 5.83 185 -1.7)">G</text>
<text class="b" transform="matrix(1.21 0 0 .83 195 -10)">L</text><text class="m" transform="matrix(1.21 0 0 .5 195 -4.3)">F</text><text class="b" transform="matrix(1.21 0 0 .3 195 -1)">I</text>
<text class="b" transform="matrix(1.21 0 0 1 205 -6.7)">L</text><text class="g" transform="matrix(1.21 0 0 .5 205 -1)">S</text>
<text class="r" transform="matrix(1.21 0 0 4.17 215 -1.7)">K</text>
<text class="r" transform="matrix(1.21 0 0 4.17 225 -1.7)">K</text>
<text class="b" transform="matrix(1.21 0 0 1 235 -10)">A</text><text class="b" transform="matrix(1.21 0 0 .43 235 -5)">V</text><text class="g" transform="matrix(1.21 0 0 .33 235 -1)">S</text>
<text class="c" transform="matrix(1.21 0 0 .6 245 -8.3)">Y</text><text class="m" transform="matrix(1.21 0 0 .33 245 -4.3)">E</text><text class="g" transform="matrix(1.21 0 0 .3 245 -1)">S</text>
<text class="m" transform="matrix(1.21 0 0 3 255 -11.7)">E</text><text class="m" transform="matrix(1.21 0 0 .6 255 -5)">D</text><text class="b" transform="matrix(1.21 0 0 .3 255 -1)">A</text>
<text class="b" transform="matrix(1.21 0 0 2.83 265 -10)">L</text><text class="b" transform="matrix(1.21 0 0 .43 265 -5)">I</text><text class="g" transform="matrix(1.21 0 0 .33 265 -1)">S</text>
<text class="g" transform="matrix(1.21 0 0 3 275 -11.7)">S</text><text class="g" transform="matrix(1.21 0 0 .6 275 -5)">T</text><text class="b" transform="matrix(1.21 0 0 .33 275 -1)">A</text>
<text class="b" transform="matrix(1.21 0 0 3.33 285 -10)">Y</text><text class="g" transform="matrix(1.21 0 0 .6 285 -3.3)">T</text>
<text class="b" transform="matrix(1.21 0 0 5.83 295 -1.7)">L</text>
<text class="b" transform="matrix(1.21 0 0 5.83 305 -1.7)">C</text>
<text class="m" transform="matrix(1.21 0 0 2.67 315 -13.3)">D</text><text class="o" transform="matrix(1.21 0 0 .77 315 -5)">G</text><text class="b" transform="matrix(1.21 0 0 .33 315 -1)">A</text>
<text class="b" transform="matrix(1.21 0 0 1.5 325 -15)">A</text><text class="b" transform="matrix(1.21 0 0 .6 325 -8.3)">V</text><text class="c" transform="matrix(1.21 0 0 .6 325 -1.7)">Y</text>
<text class="m" transform="matrix(1.21 0 0 2 335 -11.7)">E</text><text class="m" transform="matrix(1.21 0 0 .43 335 -6.7)">D</text><text class="b" transform="matrix(1.21 0 0 .5 335 -1)">A</text>
<text class="b" transform="matrix(1.21 0 0 2.67 345 -13.3)">V</text><text class="b" transform="matrix(1.21 0 0 .77 345 -5)">I</text><text class="b" transform="matrix(1.21 0 0 .33 345 -1)">A</text>
<text class="b" transform="matrix(1.21 0 0 2.67 355 -13.3)">A</text><text class="o" transform="matrix(1.21 0 0 .43 355 -8.3)">G</text><text class="g" transform="matrix(1.21 0 0 .6 355 -1.7)">S</text>
<text class="b" transform="matrix(1.21 0 0 2.67 365 -13.3)">L</text><text class="c" transform="matrix(1.21 0 0 .6 365 -6.7)">Y</text><text class="b" transform="matrix(1.21 0 0 .5 365 -1)">I</text>
<text class="b" transform="matrix(1.21 0 0 3 375 -10)">L</text><text class="b" transform="matrix(1.21 0 0 .6 375 -3.3)">V</text>
<text class="b" transform="matrix(1.21 0 0 1.67 385 -10)">I</text><text class="b" transform="matrix(1.21 0 0 .5 385 -4.3)">V</text><text class="g" transform="matrix(1.21 0 0 .33 385 -1)">N</text>
<text class="m" transform="matrix(1.21 0 0 2.83 395 -10)">F</text><text class="g" transform="matrix(1.21 0 0 .5 395 -4.3)">S</text><text class="b" transform="matrix(1.21 0 0 .33 395 -1)">A</text>
<text class="g" transform="matrix(1.21 0 0 4 405 -11.7)">S</text><text class="g" transform="matrix(1.21 0 0 .6 405 -5)">Q</text><text class="b" transform="matrix(1.21 0 0 .33 405 -1)">A</text>
<text class="y" transform="matrix(1.21 0 0 .67 415 -18.3)">P</text><text class="g" transform="matrix(1.21 0 0 .6 415 -12.3)">S</text><text class="r" transform="matrix(1.21 0 0 .57 415 -6.7)">R</text><text class="b" transform="matrix(1.21 0 0 .5 415 -1)">A</text>
</g>
<g id="logo4" class="lg" transform="translate(506.7 202.7) scale(1.395 1)">
<text class="b" transform="matrix(1.21 0 0 6.33 5 -6)">M</text><text class="r" transform="matrix(1.21 0 0 .43 5 -1.7)">R</text>
<text class="o" transform="matrix(1.21 0 0 4.17 15 -16)">G</text><text class="b" transform="matrix(1.21 0 0 .87 15 -6.7)">V</text><text class="g" transform="matrix(1.21 0 0 .47 15 -2)">T</text>
<text class="r" transform="matrix(1.21 0 0 6.83 25 -1)">R</text>
<text class="o" transform="matrix(1.21 0 0 2.43 35 -16.7)">G</text><text class="r" transform="matrix(1.21 0 0 .5 35 -11.7)">K</text><text class="m" transform="matrix(1.21 0 0 .5 35 -6.7)">E</text><text class="m" transform="matrix(1.21 0 0 .5 35 -1.7)">D</text>
<text class="r" transform="matrix(1.21 0 0 3.83 45 -22.7)">K</text><text class="r" transform="matrix(1.21 0 0 2.17 45 -1)">R</text>
<text class="b" transform="matrix(1.21 0 0 1.83 55 -26)">V</text><text class="b" transform="matrix(1.21 0 0 1.5 55 -11)">I</text><text class="g" transform="matrix(1.21 0 0 .5 55 -6)">T</text><text class="b" transform="matrix(1.21 0 0 .43 55 -1.7)">A</text>
<text class="m" transform="matrix(1.21 0 0 1.83 65 -24.3)">E</text><text class="g" transform="matrix(1.21 0 0 1.1 65 -13.3)">Q</text><text class="r" transform="matrix(1.21 0 0 .73 65 -6)">K</text><text class="b" transform="matrix(1.21 0 0 .43 65 -1.7)">M</text>
<text class="b" transform="matrix(1.21 0 0 2.83 75 -17.7)">I</text><text class="b" transform="matrix(1.21 0 0 1 75 -7.7)">L</text><text class="b" transform="matrix(1.21 0 0 .67 75 -1)">M</text>
</g>
<g id="logo3" class="lg" transform="translate(506.7 299.3) scale(1.4 1)">
<text class="o" transform="matrix(1.21 0 0 7 5 -2.7)">G</text>
<text class="r" transform="matrix(1.21 0 0 4.73 15 -15.3)">K</text><text class="r" transform="matrix(1.21 0 0 1.33 15 -1)">R</text>
<text class="b" transform="matrix(1.21 0 0 4.27 25 -13.3)">L</text><text class="b" transform="matrix(1.21 0 0 .67 25 -6)">V</text><text class="b" transform="matrix(1.21 0 0 .5 25 -1)">A</text>
<text class="c" transform="matrix(1.21 0 0 2.6 35 -23.3)">Y</text><text class="b" transform="matrix(1.21 0 0 1.6 35 -6.7)">F</text><text class="b" transform="matrix(1.21 0 0 .5 35 -1)">L</text>
<text class="m" transform="matrix(1.21 0 0 4.17 45 -12.7)">E</text><text class="g" transform="matrix(1.21 0 0 .67 45 -6)">S</text><text class="m" transform="matrix(1.21 0 0 .45 45 -1)">D</text>
<text class="b" transform="matrix(1.21 0 0 3.1 55 -26.7)">F</text><text class="c" transform="matrix(1.21 0 0 2.33 55 -2)">Y</text>
<text class="g" transform="matrix(1.21 0 0 1.17 65 -27.7)">S</text><text class="b" transform="matrix(1.21 0 0 1 65 -17.7)">A</text><text class="b" transform="matrix(1.21 0 0 .77 65 -10)">C</text><text class="o" transform="matrix(1.21 0 0 .67 65 -2.7)">G</text>
<text class="g" transform="matrix(1.21 0 0 2.83 75 -17.7)">S</text><text class="g" transform="matrix(1.21 0 0 .67 75 -10)">N</text><text class="g" transform="matrix(1.21 0 0 .67 75 -2.7)">T</text>
<text class="g" transform="matrix(1.21 0 0 .87 85 -20)">S</text><text class="y" transform="matrix(1.21 0 0 .4 85 -15.3)">P</text><text class="g" transform="matrix(1.21 0 0 .57 85 -9.3)">N</text><text class="m" transform="matrix(1.21 0 0 .6 85 -2.7)">D</text>
<text class="g" transform="matrix(1.21 0 0 2.83 95 -17.7)">S</text><text class="g" transform="matrix(1.21 0 0 .67 95 -10)">N</text><text class="o" transform="matrix(1.21 0 0 .67 95 -2.7)">G</text>
<text class="b" transform="matrix(1.21 0 0 .83 105 -19.3)">M</text><text class="g" transform="matrix(1.21 0 0 .6 105 -13.3)">S</text><text class="c" transform="matrix(1.21 0 0 .67 105 -6)">Y</text><text class="b" transform="matrix(1.21 0 0 .43 105 -1.5)">A</text>
<text class="b" transform="matrix(1.21 0 0 .43 115 -13.3)">M</text><text class="r" transform="matrix(1.21 0 0 .4 115 -9.3)">K</text><text class="g" transform="matrix(1.21 0 0 .67 115 -2.7)">S</text>
<text class="m" transform="matrix(1.21 0 0 .47 125 -10.7)">E</text><text class="r" transform="matrix(1.21 0 0 .47 125 -6)">K</text><text class="b" transform="matrix(1.21 0 0 .43 125 -1.5)">A</text>
<text class="g" transform="matrix(1.21 0 0 .83 135 -22.7)">T</text><text class="r" transform="matrix(1.21 0 0 .77 135 -15)">K</text><text class="b" transform="matrix(1.21 0 0 .77 135 -6.7)">V</text><text class="b" transform="matrix(1.21 0 0 .4 135 -2)">A</text>
<text class="b" transform="matrix(1.21 0 0 1.83 145 -17.7)">I</text><text class="b" transform="matrix(1.21 0 0 .43 145 -13.3)">L</text><text class="b" transform="matrix(1.21 0 0 .6 145 -6.7)">V</text><text class="c" transform="matrix(1.21 0 0 .43 145 -1.7)">Y</text>
</g>
<g id="logo2" class="lg" transform="translate(506.7 388.3) scale(1.03 1)">
<text class="g" transform="matrix(1.21 0 0 .83 5 -19.7)">Q</text><text class="b" transform="matrix(1.21 0 0 .57 5 -14)">L</text><text class="r" transform="matrix(1.21 0 0 .43 5 -9.3)">K</text><text class="g" transform="matrix(1.21 0 0 .8 5 -.7)">S</text>
<text class="r" transform="matrix(1.21 0 0 4.83 15 -4.7)">R</text><text class="b" transform="matrix(1.21 0 0 .4 15 -.7)">I</text>
<text class="g" transform="matrix(1.21 0 0 1 25 -23)">Q</text><text class="p" transform="matrix(1.21 0 0 1 25 -12)">H</text><text class="g" transform="matrix(1.21 0 0 .6 25 -5.3)">N</text><text class="r" transform="matrix(1.21 0 0 .4 25 -.7)">R</text>
<text class="b" transform="matrix(1.21 0 0 1.67 35 -19.7)">L</text><text class="b" transform="matrix(1.21 0 0 .77 35 -12)">M</text><text class="b" transform="matrix(1.21 0 0 .67 35 -4.7)">F</text>
<text class="b" transform="matrix(1.21 0 0 1 45 -19.7)">L</text><text class="b" transform="matrix(1.21 0 0 .7 45 -12)">M</text><text class="r" transform="matrix(1.21 0 0 .6 45 -5.3)">R</text>
<text class="o" transform="matrix(1.21 0 0 6.43 55 -2)">G</text>
<text class="m" transform="matrix(1.21 0 0 2.5 65 -23)">E</text><text class="b" transform="matrix(1.21 0 0 .57 65 -16.3)">L</text><text class="m" transform="matrix(1.21 0 0 1.17 65 -4.7)">D</text>
<text class="m" transform="matrix(1.21 0 0 1.17 75 -19.7)">D</text><text class="m" transform="matrix(1.21 0 0 .67 75 -13)">E</text><text class="o" transform="matrix(1.21 0 0 .77 75 -4.7)">G</text>
<text class="b" transform="matrix(1.21 0 0 5.23 85 -6.3)">L</text><text class="b" transform="matrix(1.21 0 0 .5 85 -1.3)">M</text>
<text class="o" transform="matrix(1.21 0 0 .67 95 -14.7)">G</text><text class="y" transform="matrix(1.21 0 0 .6 95 -8)">P</text><text class="m" transform="matrix(1.21 0 0 .6 95 -2)">E</text>
<text class="g" transform="matrix(1.21 0 0 .93 105 -18.7)">S</text><text class="o" transform="matrix(1.21 0 0 .6 105 -12)">G</text><text class="r" transform="matrix(1.21 0 0 .67 105 -4.7)">R</text>
<text class="b" transform="matrix(1.21 0 0 4.1 115 -12)">L</text><text class="b" transform="matrix(1.21 0 0 .73 115 -4)">C</text>
<text class="g" transform="matrix(1.21 0 0 1.77 125 -18.7)">S</text><text class="g" transform="matrix(1.21 0 0 .67 125 -11.3)">N</text><text class="b" transform="matrix(1.21 0 0 .67 125 -4)">I</text>
<text class="b" transform="matrix(1.21 0 0 .67 135 -16.3)">Y</text><text class="b" transform="matrix(1.21 0 0 .67 135 -9.7)">L</text><text class="g" transform="matrix(1.21 0 0 .6 135 -3)">Q</text>
<text class="r" transform="matrix(1.21 0 0 .67 145 -21.3)">K</text><text class="m" transform="matrix(1.21 0 0 .5 145 -16.3)">E</text><text class="g" transform="matrix(1.21 0 0 .5 145 -11.3)">N</text><text class="m" transform="matrix(1.21 0 0 .6 145 -4.7)">D</text>
<text class="m" transform="matrix(1.21 0 0 4.57 155 -10.7)">E</text><text class="m" transform="matrix(1.21 0 0 .83 155 -1.3)">D</text>
<text class="b" transform="matrix(1.21 0 0 6.9 165 -.7)">L</text>
<text class="g" transform="matrix(1.21 0 0 1.2 175 -18.7)">Q</text><text class="r" transform="matrix(1.21 0 0 .5 175 -13)">K</text><text class="r" transform="matrix(1.21 0 0 .5 175 -7.3)">R</text><text class="g" transform="matrix(1.21 0 0 .5 175 -1.3)">S</text>
<text class="g" transform="matrix(1.21 0 0 .83 185 -16.3)">Q</text><text class="g" transform="matrix(1.21 0 0 .6 185 -9.7)">N</text><text class="b" transform="matrix(1.21 0 0 .5 185 -4)">I</text>
<text class="b" transform="matrix(1.21 0 0 4.77 195 -8.7)">L</text><text class="b" transform="matrix(1.21 0 0 .73 195 -.7)">V</text>
<text class="m" transform="matrix(1.21 0 0 5.83 205 -4.7)">E</text>
<text class="r" transform="matrix(1.21 0 0 .5 215 -14.7)">R</text><text class="r" transform="matrix(1.21 0 0 .53 215 -8.7)">K</text><text class="g" transform="matrix(1.21 0 0 .5 215 -3)">S</text>
<text class="g" transform="matrix(1.21 0 0 1.93 225 -18.7)">Q</text><text class="r" transform="matrix(1.21 0 0 .6 225 -12)">R</text><text class="g" transform="matrix(1.21 0 0 .73 225 -4)">S</text>
<text class="b" transform="matrix(1.21 0 0 4.67 235 -9.7)">L</text><text class="b" transform="matrix(1.21 0 0 .6 235 -2)">M</text>
<text class="m" transform="matrix(1.21 0 0 2.77 245 -18.7)">E</text><text class="m" transform="matrix(1.21 0 0 .83 245 -9.7)">D</text><text class="b" transform="matrix(1.21 0 0 .6 245 -3)">I</text>
<text class="g" transform="matrix(1.21 0 0 .43 255 -12)">T</text><text class="r" transform="matrix(1.21 0 0 .4 255 -8)">R</text><text class="b" transform="matrix(1.21 0 0 .43 255 -3)">A</text>
<text class="g" transform="matrix(1.21 0 0 2.17 265 -23)">S</text><text class="o" transform="matrix(1.21 0 0 1.1 265 -12)">G</text><text class="b" transform="matrix(1.21 0 0 .93 265 -2)">A</text>
<text class="b" transform="matrix(1.21 0 0 4.27 275 -12)">L</text><text class="b" transform="matrix(1.21 0 0 .77 275 -3)">I</text>
<text class="r" transform="matrix(1.21 0 0 .67 285 -18)">K</text><text class="g" transform="matrix(1.21 0 0 .6 285 -11.3)">S</text><text class="m" transform="matrix(1.21 0 0 .77 285 -3)">D</text>
<text class="r" transform="matrix(1.21 0 0 .67 295 -18)">R</text><text class="g" transform="matrix(1.21 0 0 .6 295 -11.3)">Q</text><text class="m" transform="matrix(1.21 0 0 .77 295 -3)">E</text>
<text class="b" transform="matrix(1.21 0 0 2.93 305 -18.7)">I</text><text class="b" transform="matrix(1.21 0 0 1.5 305 -3)">V</text>
<text class="r" transform="matrix(1.21 0 0 4.67 315 -9.7)">R</text><text class="b" transform="matrix(1.21 0 0 .7 315 -2)">L</text>
<text class="g" transform="matrix(1.21 0 0 1 325 -18)">S</text><text class="m" transform="matrix(1.21 0 0 .53 325 -12)">E</text><text class="b" transform="matrix(1.21 0 0 .83 325 -3)">A</text>
<text class="r" transform="matrix(1.21 0 0 1.83 335 -24.7)">R</text><text class="r" transform="matrix(1.21 0 0 1.07 335 -14)">K</text><text class="g" transform="matrix(1.21 0 0 1 335 -3)">T</text>
</g>
<g id="logo6" class="lg" transform="translate(506.7 487.3) scale(1.365 1)">
<text class="g" transform="matrix(1.21 0 0 4 5 -19)">Q</text><text class="m" transform="matrix(1.21 0 0 1.5 5 -2.3)">E</text>
<text class="b" transform="matrix(1.21 0 0 .77 15 -18)">L</text><text class="g" transform="matrix(1.21 0 0 .6 15 -11.3)">T</text><text class="g" transform="matrix(1.21 0 0 .83 15 -2.3)">S</text>
<text class="b" transform="matrix(1.21 0 0 2.17 25 -24)">M</text><text class="b" transform="matrix(1.21 0 0 1.17 25 -12.3)">L</text><text class="b" transform="matrix(1.21 0 0 .93 25 -2.3)">F</text>
<text class="b" transform="matrix(1.21 0 0 .57 35 -13.3)">M</text><text class="g" transform="matrix(1.21 0 0 .5 35 -7.3)">T</text><text class="b" transform="matrix(1.21 0 0 .5 35 -2.3)">A</text>
<text class="m" transform="matrix(1.21 0 0 1.5 45 -22.3)">E</text><text class="m" transform="matrix(1.21 0 0 1 45 -12.3)">D</text><text class="b" transform="matrix(1.21 0 0 .43 45 -7.3)">A</text><text class="g" transform="matrix(1.21 0 0 .43 45 -2.3)">S</text>
<text class="m" transform="matrix(1.21 0 0 1.83 55 -27.3)">E</text><text class="g" transform="matrix(1.21 0 0 1.1 55 -15.7)">Q</text><text class="g" transform="matrix(1.21 0 0 1.37 55 -1.3)">S</text>
<text class="b" transform="matrix(1.21 0 0 3.67 65 -19)">I</text><text class="b" transform="matrix(1.21 0 0 1.1 65 -7.3)">L</text><text class="b" transform="matrix(1.21 0 0 .6 65 -1.3)">M</text>
<text class="m" transform="matrix(1.21 0 0 .5 75 -17.3)">E</text><text class="r" transform="matrix(1.21 0 0 .5 75 -12.3)">R</text><text class="b" transform="matrix(1.21 0 0 .5 75 -7.3)">I</text><text class="b" transform="matrix(1.21 0 0 .5 75 -2.3)">C</text>
<text class="m" transform="matrix(1.21 0 0 1.33 85 -12.3)">E</text><text class="b" transform="matrix(1.21 0 0 .6 85 -5.7)">M</text><text class="m" transform="matrix(1.21 0 0 .4 85 -1.3)">D</text>
<text class="b" transform="matrix(1.21 0 0 5.87 95 -8)">L</text><text class="b" transform="matrix(1.21 0 0 .67 95 -.7)">M</text>
<text class="g" transform="matrix(1.21 0 0 2.67 105 -20.7)">Q</text><text class="r" transform="matrix(1.21 0 0 .5 105 -14)">K</text><text class="r" transform="matrix(1.21 0 0 .6 105 -8)">R</text><text class="g" transform="matrix(1.21 0 0 .6 105 -1.3)">N</text>
<text class="r" transform="matrix(1.21 0 0 1.33 115 -24)">K</text><text class="r" transform="matrix(1.21 0 0 .83 115 -15.7)">R</text><text class="g" transform="matrix(1.21 0 0 .77 115 -7.3)">Q</text><text class="m" transform="matrix(1.21 0 0 .5 115 -1.3)">E</text>
<text class="r" transform="matrix(1.21 0 0 4.73 125 -13.3)">K</text><text class="r" transform="matrix(1.21 0 0 1.1 125 -1.3)">R</text>
<text class="m" transform="matrix(1.21 0 0 3.57 135 -16.7)">E</text><text class="o" transform="matrix(1.21 0 0 .67 135 -9)">G</text><text class="m" transform="matrix(1.21 0 0 .6 135 -2.3)">D</text>
<text class="r" transform="matrix(1.21 0 0 .5 145 -14)">K</text><text class="b" transform="matrix(1.21 0 0 .5 145 -7.7)">A</text><text class="g" transform="matrix(1.21 0 0 .45 145 -2.3)">S</text>
<text class="b" transform="matrix(1.21 0 0 .67 155 -12.3)">A</text><text class="m" transform="matrix(1.21 0 0 .43 155 -7.7)">E</text><text class="g" transform="matrix(1.21 0 0 .43 155 -2.3)">S</text>
<text class="b" transform="matrix(1.21 0 0 4.57 165 -13.3)">L</text><text class="g" transform="matrix(1.21 0 0 .5 165 -7.3)">T</text><text class="b" transform="matrix(1.21 0 0 .43 165 -2.3)">V</text>
<text class="g" transform="matrix(1.21 0 0 .5 175 -12.3)">Q</text><text class="b" transform="matrix(1.21 0 0 .43 175 -7.3)">A</text><text class="m" transform="matrix(1.21 0 0 .43 175 -2.3)">D</text>
<text class="m" transform="matrix(1.21 0 0 1.67 185 -24)">E</text><text class="m" transform="matrix(1.21 0 0 .77 185 -15.7)">D</text><text class="b" transform="matrix(1.21 0 0 .6 185 -9)">A</text><text class="g" transform="matrix(1.21 0 0 .6 185 -2.3)">S</text>
<text class="m" transform="matrix(1.21 0 0 1.6 195 -19.7)">E</text><text class="b" transform="matrix(1.21 0 0 .57 195 -13.3)">A</text><text class="m" transform="matrix(1.21 0 0 .5 195 -7.3)">D</text><text class="g" transform="matrix(1.21 0 0 .43 195 -2.3)">S</text>
<text class="g" transform="matrix(1.21 0 0 6.27 205 -6.3)">N</text><text class="r" transform="matrix(1.21 0 0 .43 205 -1.3)">K</text>
</g>
<g id="logo5" class="lg" transform="translate(508.3 602.7) scale(1.45 1)">
<text class="m" transform="matrix(1.21 0 0 .77 5 -17.7)">E</text><text class="g" transform="matrix(1.21 0 0 .5 5 -12.7)">T</text><text class="b" transform="matrix(1.21 0 0 .6 5 -6.7)">V</text><text class="g" transform="matrix(1.21 0 0 .57 5 -1)">Q</text>
<text class="g" transform="matrix(1.21 0 0 .9 15 -21)">Q</text><text class="r" transform="matrix(1.21 0 0 .5 15 -16)">K</text><text class="m" transform="matrix(1.21 0 0 .5 15 -11)">E</text><text class="b" transform="matrix(1.21 0 0 .5 15 -5.3)">L</text><text class="m" transform="matrix(1.21 0 0 .4 15 -.7)">D</text>
<text class="g" transform="matrix(1.21 0 0 .83 25 -16)">S</text><text class="b" transform="matrix(1.21 0 0 .5 25 -11)">F</text><text class="m" transform="matrix(1.21 0 0 .5 25 -5.3)">E</text><text class="m" transform="matrix(1.21 0 0 .4 25 -.7)">D</text>
<text class="b" transform="matrix(1.21 0 0 .93 35 -26.7)">W</text><text class="g" transform="matrix(1.21 0 0 .93 35 -16.7)">S</text><text class="b" transform="matrix(1.21 0 0 .83 35 -7.7)">L</text><text class="b" transform="matrix(1.21 0 0 .6 35 -1)">A</text>
<text class="g" transform="matrix(1.21 0 0 .67 45 -19.3)">Q</text><text class="c" transform="matrix(1.21 0 0 .53 45 -13.3)">Y</text><text class="m" transform="matrix(1.21 0 0 .6 45 -6.7)">E</text><text class="r" transform="matrix(1.21 0 0 .5 45 -1)">K</text>
<text class="g" transform="matrix(1.21 0 0 .67 55 -19.3)">Q</text><text class="b" transform="matrix(1.21 0 0 .6 55 -12.7)">I</text><text class="m" transform="matrix(1.21 0 0 .53 55 -6.7)">E</text><text class="m" transform="matrix(1.21 0 0 .5 55 -1)">D</text>
<text class="m" transform="matrix(1.21 0 0 7.67 65 -2.7)">E</text>
<text class="b" transform="matrix(1.21 0 0 .67 75 -16)">V</text><text class="g" transform="matrix(1.21 0 0 .6 75 -9.3)">N</text><text class="g" transform="matrix(1.21 0 0 .6 75 -2.7)">S</text>
<text class="b" transform="matrix(1.21 0 0 .83 85 -19.3)">A</text><text class="b" transform="matrix(1.21 0 0 .6 85 -12.7)">L</text><text class="b" transform="matrix(1.21 0 0 .53 85 -6.7)">I</text><text class="g" transform="matrix(1.21 0 0 .5 85 -1)">S</text>
<text class="r" transform="matrix(1.21 0 0 2.1 95 -18.3)">K</text><text class="r" transform="matrix(1.21 0 0 .5 95 -12.7)">R</text><text class="m" transform="matrix(1.21 0 0 .53 95 -6.7)">D</text><text class="m" transform="matrix(1.21 0 0 .5 95 -1)">E</text>
<text class="b" transform="matrix(1.21 0 0 6.5 105 -7.7)">L</text><text class="b" transform="matrix(1.21 0 0 .67 105 0)">M</text>
<text class="r" transform="matrix(1.21 0 0 1.77 115 -25)">K</text><text class="r" transform="matrix(1.21 0 0 1.5 115 -9.3)">R</text><text class="b" transform="matrix(1.21 0 0 .6 115 -2.7)">A</text>
<text class="b" transform="matrix(1.21 0 0 .67 125 -17.7)">A</text><text class="o" transform="matrix(1.21 0 0 .5 125 -12.7)">G</text><text class="m" transform="matrix(1.21 0 0 .5 125 -7.7)">E</text><text class="g" transform="matrix(1.21 0 0 .6 125 -1)">Q</text>
<text class="r" transform="matrix(1.21 0 0 1.1 135 -20)">R</text><text class="r" transform="matrix(1.21 0 0 .6 135 -13.3)">K</text><text class="g" transform="matrix(1.21 0 0 .6 135 -6.7)">Q</text><text class="b" transform="matrix(1.21 0 0 .5 135 -1)">I</text>
<text class="b" transform="matrix(1.21 0 0 .93 145 -21.7)">I</text><text class="c" transform="matrix(1.21 0 0 .6 145 -15)">Y</text><text class="b" transform="matrix(1.21 0 0 .77 145 -6.7)">V</text><text class="b" transform="matrix(1.21 0 0 .5 145 -1)">L</text>
<text class="m" transform="matrix(1.21 0 0 2.93 155 -16.7)">E</text><text class="m" transform="matrix(1.21 0 0 .67 155 -9.3)">D</text><text class="g" transform="matrix(1.21 0 0 .6 155 -2.7)">S</text>
<text class="b" transform="matrix(1.21 0 0 .5 165 -9.3)">V</text><text class="b" transform="matrix(1.21 0 0 .6 165 -2.7)">A</text>
<text class="b" transform="matrix(1.21 0 0 4.33 175 -12.7)">L</text><text class="g" transform="matrix(1.21 0 0 .6 175 -6)">T</text><text class="b" transform="matrix(1.21 0 0 .43 175 -1)">I</text>
<text class="g" transform="matrix(1.21 0 0 4.43 185 -15)">Q</text><text class="m" transform="matrix(1.21 0 0 .83 185 -6)">E</text><text class="g" transform="matrix(1.21 0 0 .47 185 -.7)">T</text>
<text class="r" transform="matrix(1.21 0 0 .5 195 -16)">R</text><text class="m" transform="matrix(1.21 0 0 .53 195 -10)">E</text><text class="b" transform="matrix(1.21 0 0 .4 195 -5.3)">A</text><text class="g" transform="matrix(1.21 0 0 .4 195 -.7)">S</text>
<text class="g" transform="matrix(1.21 0 0 1.27 205 -20)">S</text><text class="g" transform="matrix(1.21 0 0 .67 205 -12.7)">N</text><text class="g" transform="matrix(1.21 0 0 .6 205 -6)">T</text><text class="m" transform="matrix(1.21 0 0 .47 205 -.7)">E</text>
</g>
<g id="logo13" class="lg" transform="translate(552.7 721) scale(1.727 1)">
<text class="b" transform="matrix(1.21 0 0 2.5 5 -27.7)">A</text><text class="b" transform="matrix(1.21 0 0 1 5 -17.7)">V</text><text class="g" transform="matrix(1.21 0 0 .7 5 -10)">S</text><text class="y" transform="matrix(1.21 0 0 .5 5 -4.3)">P</text><text class="o" transform="matrix(1.21 0 0 .37 5 -.7)">G</text>
<text class="b" transform="matrix(1.21 0 0 .83 15 -31)">A</text><text class="b" transform="matrix(1.21 0 0 .77 15 -23.3)">I</text><text class="y" transform="matrix(1.21 0 0 .5 15 -17.7)">P</text><text class="g" transform="matrix(1.21 0 0 .43 15 -12.7)">S</text><text class="o" transform="matrix(1.21 0 0 .53 15 -6.7)">G</text><text class="g" transform="matrix(1.21 0 0 .53 15 -.7)">Q</text>
<text class="b" transform="matrix(1.21 0 0 .77 25 -24.3)">A</text><text class="g" transform="matrix(1.21 0 0 .5 25 -18.7)">T</text><text class="g" transform="matrix(1.21 0 0 .53 25 -13.3)">S</text><text class="p" transform="matrix(1.21 0 0 .4 25 -8.7)">H</text><text class="b" transform="matrix(1.21 0 0 .73 25 -.7)">L</text>
<text class="m" transform="matrix(1.21 0 0 1.1 35 -30)">D</text><text class="o" transform="matrix(1.21 0 0 .83 35 -21)">G</text><text class="g" transform="matrix(1.21 0 0 .5 35 -15.3)">Q</text><text class="m" transform="matrix(1.21 0 0 .87 35 -6)">D</text><text class="g" transform="matrix(1.21 0 0 .47 35 -.7)">S</text>
<text class="y" transform="matrix(1.21 0 0 1.4 45 -32)">P</text><text class="g" transform="matrix(1.21 0 0 .67 45 -24.3)">Q</text><text class="g" transform="matrix(1.21 0 0 .77 45 -16)">N</text><text class="m" transform="matrix(1.21 0 0 .93 45 -6)">D</text><text class="g" transform="matrix(1.21 0 0 .47 45 -.7)">T</text>
<text class="g" transform="matrix(1.21 0 0 1.1 55 -30)">S</text><text class="g" transform="matrix(1.21 0 0 .67 55 -22.7)">Q</text><text class="y" transform="matrix(1.21 0 0 .6 55 -16)">P</text><text class="g" transform="matrix(1.21 0 0 .6 55 -9.3)">N</text><text class="b" transform="matrix(1.21 0 0 .8 55 -.7)">I</text>
<text class="b" transform="matrix(1.21 0 0 1.77 65 -30)">V</text><text class="g" transform="matrix(1.21 0 0 .83 65 -21)">S</text><text class="g" transform="matrix(1.21 0 0 .77 65 -12.7)">N</text><text class="b" transform="matrix(1.21 0 0 .6 65 -6)">L</text><text class="c" transform="matrix(1.21 0 0 .47 65 -.7)">Y</text>
<text class="g" transform="matrix(1.21 0 0 4.6 75 -25)">N</text><text class="g" transform="matrix(1.21 0 0 1.5 75 -9.3)">S</text><text class="g" transform="matrix(1.21 0 0 .8 75 -.7)">T</text>
<text class="o" transform="matrix(1.21 0 0 1.1 85 -28.3)">G</text><text class="g" transform="matrix(1.21 0 0 .5 85 -22.7)">T</text><text class="g" transform="matrix(1.21 0 0 .6 85 -16)">N</text><text class="g" transform="matrix(1.21 0 0 .6 85 -10)">S</text><text class="m" transform="matrix(1.21 0 0 .43 85 -4.7)">E</text><text class="r" transform="matrix(1.21 0 0 .37 85 -.3)">K</text>
<text class="c" transform="matrix(1.21 0 0 1 95 -24.3)">Y</text><text class="b" transform="matrix(1.21 0 0 .6 95 -17.7)">I</text><text class="b" transform="matrix(1.21 0 0 .6 95 -11)">F</text><text class="b" transform="matrix(1.21 0 0 .43 95 -6)">V</text><text class="r" transform="matrix(1.21 0 0 .47 95 -.7)">K</text>
<text class="b" transform="matrix(1.21 0 0 3.1 105 -26.7)">M</text><text class="b" transform="matrix(1.21 0 0 1.17 105 -14.3)">I</text><text class="b" transform="matrix(1.21 0 0 .57 105 -8)">L</text><text class="r" transform="matrix(1.21 0 0 .67 105 -.7)">K</text>
<text class="y" transform="matrix(1.21 0 0 5.93 115 -15)">P</text><text class="g" transform="matrix(1.21 0 0 .5 115 -9.3)">N</text><text class="g" transform="matrix(1.21 0 0 .4 115 -4.7)">S</text><text class="b" transform="matrix(1.21 0 0 .33 115 -.7)">A</text>
<text class="o" transform="matrix(1.21 0 0 3 125 -26)">G</text><text class="y" transform="matrix(1.21 0 0 1.43 125 -11)">P</text><text class="g" transform="matrix(1.21 0 0 .43 125 -6)">S</text><text class="b" transform="matrix(1.21 0 0 .47 125 -.7)">V</text>
<text class="b" transform="matrix(1.21 0 0 9.53 135 -.7)">W</text>
<text class="b" transform="matrix(1.21 0 0 3.5 145 -27.7)">M</text><text class="b" transform="matrix(1.21 0 0 1.77 145 -9.3)">L</text><text class="y" transform="matrix(1.21 0 0 .33 145 -4.3)">P</text><text class="b" transform="matrix(1.21 0 0 .37 145 -.3)">I</text>
</g>
<g id="logo9" class="lg" transform="translate(509.3 831) scale(1.345 1)">
<text class="b" transform="matrix(1.21 0 0 7.33 5 -1)">L</text>
<text class="m" transform="matrix(1.21 0 0 5.07 15 -8.7)">E</text><text class="m" transform="matrix(1.21 0 0 .67 15 -1)">D</text>
<text class="r" transform="matrix(1.21 0 0 5.1 25 -13.3)">R</text><text class="r" transform="matrix(1.21 0 0 1.17 25 -1)">K</text>
<text class="c" transform="matrix(1.21 0 0 7.33 35 -1)">Y</text>
<text class="g" transform="matrix(1.21 0 0 2.33 45 -29.3)">Q</text><text class="m" transform="matrix(1.21 0 0 2.2 45 -6.7)">E</text><text class="m" transform="matrix(1.21 0 0 .5 45 -1)">D</text>
<text class="r" transform="matrix(1.21 0 0 2.83 55 -27.7)">R</text><text class="r" transform="matrix(1.21 0 0 2.6 55 -1)">K</text>
<text class="c" transform="matrix(1.21 0 0 2.17 65 -27.7)">Y</text><text class="b" transform="matrix(1.21 0 0 2.27 65 -4.3)">C</text><text class="p" transform="matrix(1.21 0 0 .27 65 -1)">H</text>
<text class="g" transform="matrix(1.21 0 0 3.93 75 -16.7)">S</text><text class="g" transform="matrix(1.21 0 0 1.5 75 -1)">N</text>
<text class="c" transform="matrix(1.21 0 0 6.1 85 -6.7)">Y</text><text class="m" transform="matrix(1.21 0 0 .5 85 -1)">D</text>
<text class="b" transform="matrix(1.21 0 0 1.93 95 -23.3)">A</text><text class="o" transform="matrix(1.21 0 0 1.1 95 -11.7)">G</text><text class="m" transform="matrix(1.21 0 0 .57 95 -5.3)">D</text><text class="y" transform="matrix(1.21 0 0 .37 95 -1)">P</text>
<text class="m" transform="matrix(1.21 0 0 1.93 105 -23.3)">E</text><text class="b" transform="matrix(1.21 0 0 1.27 105 -10)">A</text><text class="g" transform="matrix(1.21 0 0 .83 105 -1)">T</text>
<text class="r" transform="matrix(1.21 0 0 1.93 115 -23.3)">R</text><text class="y" transform="matrix(1.21 0 0 1.27 115 -10)">P</text><text class="b" transform="matrix(1.21 0 0 .83 115 -1)">L</text>
<text class="m" transform="matrix(1.21 0 0 3.17 125 -21)">E</text><text class="g" transform="matrix(1.21 0 0 1.33 125 -6.7)">Q</text><text class="g" transform="matrix(1.21 0 0 .5 125 -1)">S</text>
<text class="b" transform="matrix(1.21 0 0 2.6 135 -16.7)">L</text><text class="y" transform="matrix(1.21 0 0 .83 135 -7.7)">P</text><text class="b" transform="matrix(1.21 0 0 .6 135 -1)">V</text>
<text class="g" transform="matrix(1.21 0 0 1.77 145 -18.3)">N</text><text class="b" transform="matrix(1.21 0 0 .67 145 -11)">I</text><text class="b" transform="matrix(1.21 0 0 .93 145 -1)">A</text>
<text class="b" transform="matrix(1.21 0 0 1.77 155 -21.7)">A</text><text class="p" transform="matrix(1.21 0 0 .67 155 -14.3)">H</text><text class="b" transform="matrix(1.21 0 0 .77 155 -6)">Y</text><text class="m" transform="matrix(1.21 0 0 .43 155 -1)">D</text>
<text class="g" transform="matrix(1.21 0 0 1.43 165 -26.7)">S</text><text class="g" transform="matrix(1.21 0 0 .83 165 -17.7)">T</text><text class="y" transform="matrix(1.21 0 0 .6 165 -11)">P</text><text class="m" transform="matrix(1.21 0 0 .93 165 -1)">D</text>
<text class="m" transform="matrix(1.21 0 0 1.6 175 -20)">D</text><text class="b" transform="matrix(1.21 0 0 .77 175 -11.7)">A</text><text class="g" transform="matrix(1.21 0 0 .57 175 -5.3)">S</text><text class="m" transform="matrix(1.21 0 0 .37 175 -1)">E</text>
<text class="r" transform="matrix(1.21 0 0 .77 185 -20)">R</text><text class="r" transform="matrix(1.21 0 0 .6 185 -13.3)">K</text><text class="o" transform="matrix(1.21 0 0 .6 185 -6.7)">G</text><text class="g" transform="matrix(1.21 0 0 .5 185 -1)">S</text>
<text class="m" transform="matrix(1.21 0 0 4.27 195 -15)">E</text><text class="g" transform="matrix(1.21 0 0 .77 195 -6.7)">T</text><text class="y" transform="matrix(1.21 0 0 .5 195 -1)">P</text>
<text class="b" transform="matrix(1.21 0 0 1.5 205 -24.3)">A</text><text class="g" transform="matrix(1.21 0 0 .77 205 -16)">S</text><text class="b" transform="matrix(1.21 0 0 .93 205 -6)">L</text><text class="y" transform="matrix(1.21 0 0 .43 205 -1)">P</text>
</g>
<g id="positions">
<g class="nu" transform="translate(511 103.2) rotate(-90)"><text y="0">1</text><text y="7">2</text><text y="14">3</text><text y="21">4</text><text y="28">5</text><text y="35">6</text><text y="42">7</text><text y="49">8</text><text y="56">9</text><text y="63">10</text><text y="70">11</text><text y="77">12</text><text y="84">13</text><text y="91">14</text><text y="98">15</text><text y="105">16</text><text y="112">17</text><text y="119">18</text><text y="126">19</text><text y="133">20</text><text y="140">21</text><text y="147">22</text><text y="154">23</text><text y="161">24</text><text y="168">25</text><text y="175">26</text><text y="182">27</text><text y="189">28</text><text y="196">29</text><text y="203">30</text><text y="210">31</text><text y="217">32</text><text y="224">33</text><text y="231">34</text><text y="238">35</text><text y="245">36</text><text y="252">37</text><text y="259">38</text><text y="266">39</text><text y="273">40</text><text y="280">41</text><text y="287">42</text></g>
<g class="nu" transform="translate(515.1 204.2) rotate(-90)"><text y="0">1</text><text y="13.95">2</text><text y="27.9">3</text><text y="41.85">4</text><text y="55.8">5</text><text y="69.75">6</text><text y="83.7">7</text><text y="97.65">8</text></g>
<g class="nu" transform="translate(515.1 300.8) rotate(-90)"><text y="0">1</text><text y="14">2</text><text y="28">3</text><text y="42">4</text><text y="56">5</text><text y="70">6</text><text y="84">7</text><text y="98">8</text><text y="112">9</text><text y="126">10</text><text y="140">11</text><text y="154">12</text><text y="168">13</text><text y="182">14</text><text y="196">15</text></g>
<g class="nu" transform="translate(513.25 389.8) rotate(-90)"><text y="0">1</text><text y="10.3">2</text><text y="20.6">3</text><text y="30.9">4</text><text y="41.2">5</text><text y="51.5">6</text><text y="61.8">7</text><text y="72.1">8</text><text y="82.4">9</text><text y="92.7">10</text><text y="103">11</text><text y="113.3">12</text><text y="123.6">13</text><text y="133.9">14</text><text y="144.2">15</text><text y="154.5">16</text><text y="164.8">17</text><text y="175.1">18</text><text y="185.4">19</text><text y="195.7">20</text><text y="206">21</text><text y="216.3">22</text><text y="226.6">23</text><text y="236.9">24</text><text y="247.2">25</text><text y="257.5">26</text><text y="267.8">27</text><text y="278.1">28</text><text y="288.4">29</text><text y="298.7">30</text><text y="309">31</text><text y="319.3">32</text><text y="329.6">33</text><text y="339.9">34</text></g>
<g class="nu" transform="translate(514.9 488.8) rotate(-90)"><text y="0">1</text><text y="13.65">2</text><text y="27.3">3</text><text y="40.95">4</text><text y="54.6">5</text><text y="68.25">6</text><text y="81.9">7</text><text y="95.55">8</text><text y="109.2">9</text><text y="122.85">10</text><text y="136.5">11</text><text y="150.15">12</text><text y="163.8">13</text><text y="177.45">14</text><text y="191.1">15</text><text y="204.75">16</text><text y="218.4">17</text><text y="232.05">18</text><text y="245.7">19</text><text y="259.35">20</text><text y="273">21</text></g>
<g class="nu" transform="translate(516.95 604.2) rotate(-90)"><text y="0">1</text><text y="14.5">2</text><text y="29">3</text><text y="43.5">4</text><text y="58">5</text><text y="72.5">6</text><text y="87">7</text><text y="101.5">8</text><text y="116">9</text><text y="130.5">10</text><text y="145">11</text><text y="159.5">12</text><text y="174">13</text><text y="188.5">14</text><text y="203">15</text><text y="217.5">16</text><text y="232">17</text><text y="246.5">18</text><text y="261">19</text><text y="275.5">20</text><text y="290">21</text></g>
<g class="nu" transform="translate(562.7 722.5) rotate(-90)"><text y="0">1</text><text y="17.27">2</text><text y="34.54">3</text><text y="51.81">4</text><text y="69.08">5</text><text y="86.35">6</text><text y="103.62">7</text><text y="120.89">8</text><text y="138.16">9</text><text y="155.43">10</text><text y="172.7">11</text><text y="189.97">12</text><text y="207.24">13</text><text y="224.51">14</text><text y="241.78">15</text></g>
<g class="nu" transform="translate(517.4 832.5) rotate(-90)"><text y="0">1</text><text y="13.45">2</text><text y="26.9">3</text><text y="40.35">4</text><text y="53.8">5</text><text y="67.25">6</text><text y="80.7">7</text><text y="94.15">8</text><text y="107.6">9</text><text y="121.05">10</text><text y="134.5">11</text><text y="147.95">12</text><text y="161.4">13</text><text y="174.85">14</text><text y="188.3">15</text><text y="201.75">16</text><text y="215.2">17</text><text y="228.65">18</text><text y="242.1">19</text><text y="255.55">20</text><text y="269">21</text></g>
</g>
</svg>
